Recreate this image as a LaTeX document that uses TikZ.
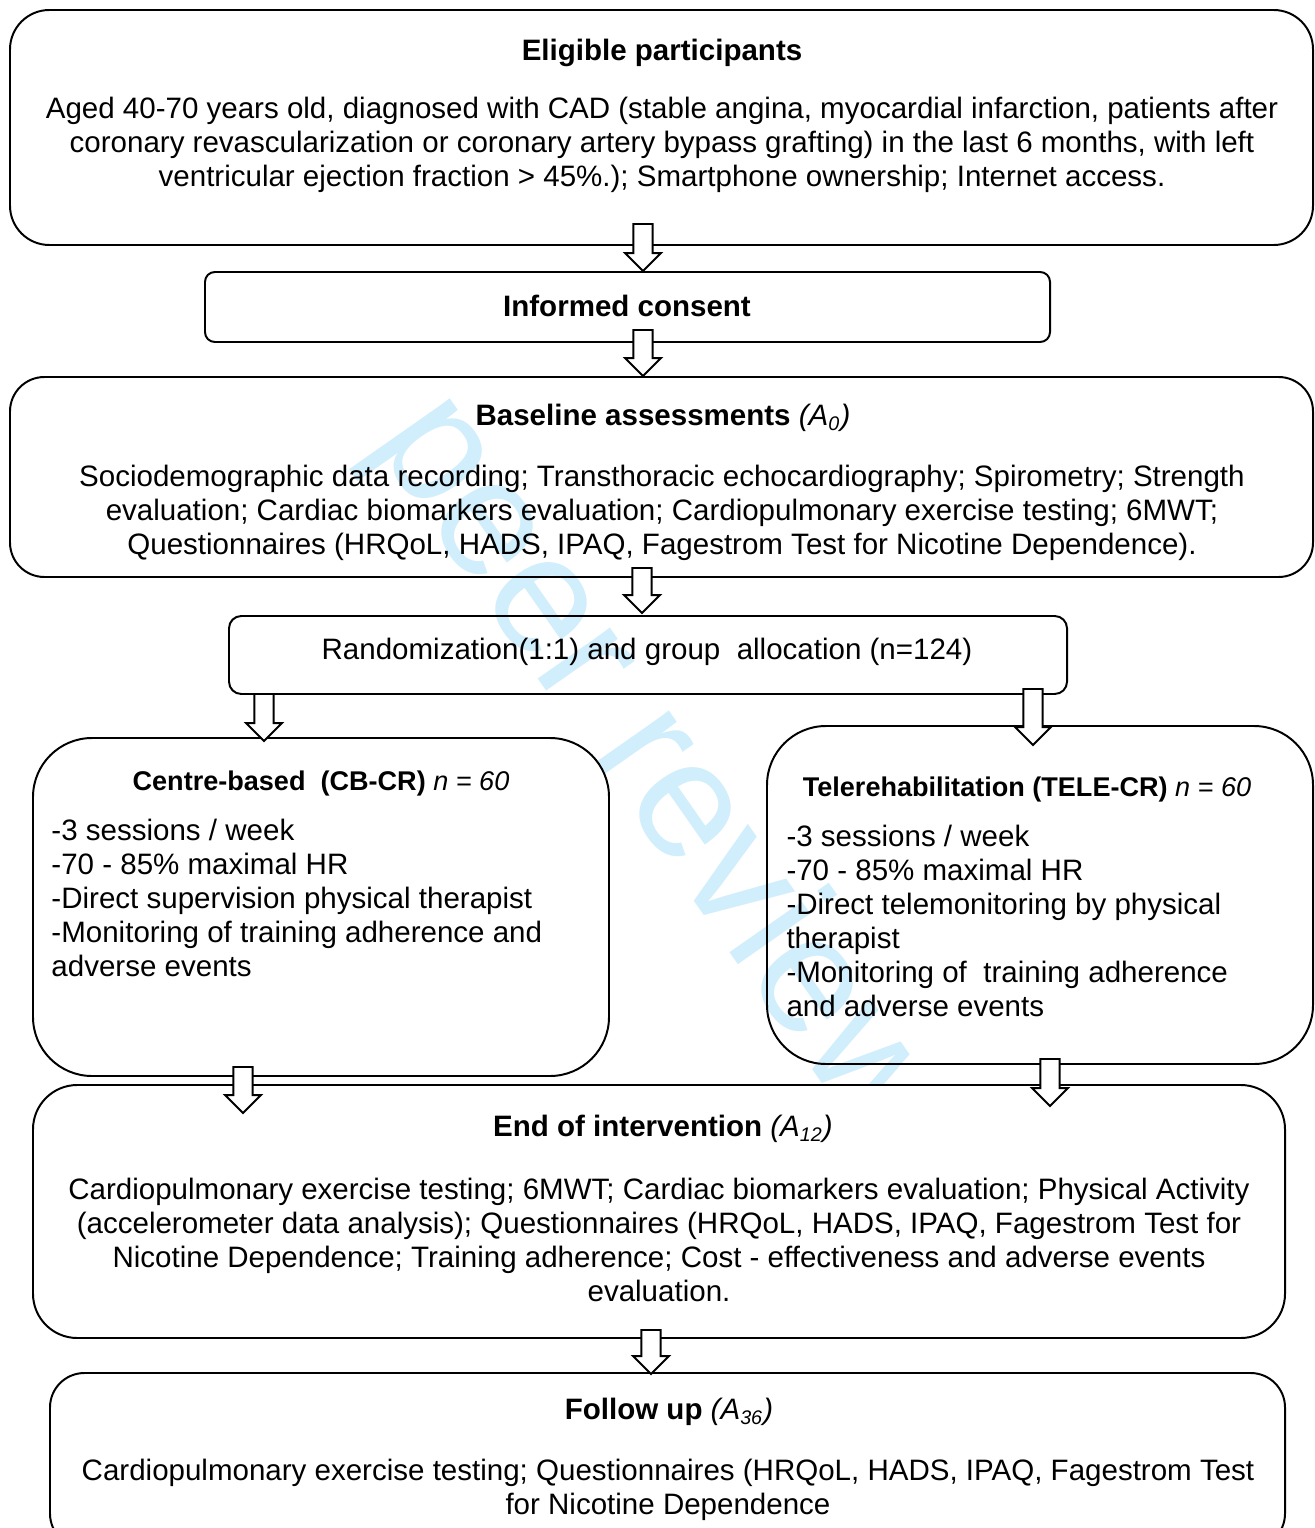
\documentclass[tikz,border=0pt]{standalone}
\usepackage{fontspec}
\setmainfont{Liberation Sans}
\usetikzlibrary{fit,calc}

\definecolor{wmblue}{RGB}{208,238,251}

\tikzset{
    box/.style={draw, line width=0.8pt, inner sep=0pt},
    bodyfont/.style={font=\fontsize{12}{13.8}\selectfont},
    title/.style={bodyfont, font=\fontsize{12}{13.8}\selectfont\bfseries, inner sep=0pt},
    subtitle/.style={font=\fontsize{11}{12.6}\selectfont\bfseries, inner sep=0pt},
    bodytext/.style={bodyfont, align=center, inner sep=0pt},
    listtext/.style={bodyfont, align=left, anchor=north west, inner sep=0pt},
    arrowline/.style={draw, fill=white, line width=0.8pt, line join=miter},
}

% hollow block arrow from a start point down to a tip
\newcommand{\hollowarrow}[2]{%
    \path[arrowline] let \p1=(#1), \p2=(#2) in
        (\x1-3.9pt,\y1) -- (\x1-3.9pt,\y2+7.3pt) -- (\x1-7.3pt,\y2+7.3pt) -- (\x1,\y2)
        -- (\x1+7.3pt,\y2+7.3pt) -- (\x1+3.9pt,\y2+7.3pt) -- (\x1+3.9pt,\y1) -- cycle;}

\begin{document}
\begin{tikzpicture}[x=0.4065pt, y=-0.4065pt]
    \clip (0,0) rectangle (1314,1528);
    \fill[white] (0,0) rectangle (1314,1528);

    % watermark
    \node[text=wmblue, rotate=-55, font=\fontsize{68}{68}\selectfont, inner sep=0pt] (wm) at (655,770) {peer review};

    % boxes
    \node[box, rounded corners=16pt, fit={(10,10) (1313,245)}] (elig) {};
    \node[box, fill=white, rounded corners=4pt, fit={(205,272) (1050,342)}] (consent) {};
    \node[box, rounded corners=14pt, fit={(10,377) (1313,577)}] (baseline) {};
    \node[box, rounded corners=5pt, fit={(229,616) (1067,694)}] (rand) {};
    \node[box, rounded corners=24pt, fit={(33,738) (609,1076)}] (cbcr) {};
    \node[box, rounded corners=24pt, fit={(767,726) (1313,1064)}] (telecr) {};
    \node[box, fill=white, rounded corners=18pt, fit={(33,1085) (1285,1338)}] (endint) {};
    \node[box, rounded corners=14pt, fit={(50,1373) (1285,1548)}] (follow) {};

    % texts
    \node[title] (eligT) at (662,53) {Eligible participants};
    \node[bodytext] (eligB) at (662,145) {Aged 40-70 years old, diagnosed with CAD (stable angina, myocardial infarction, patients after\\
        coronary revascularization or coronary artery bypass grafting) in the last 6 months, with left\\
        ventricular ejection fraction > 45\%.); Smartphone ownership; Internet access.};
    \node[title] (consentT) at (627,306) {Informed consent};
    \node[title] (baselineT) at (663,418) {Baseline assessments \mdseries\itshape (A\textsubscript{0})};
    \node[bodytext] (baselineB) at (662,513) {Sociodemographic data recording; Transthoracic echocardiography; Spirometry; Strength\\
        evaluation; Cardiac biomarkers evaluation; Cardiopulmonary exercise testing; 6MWT;\\
        Questionnaires (HRQoL, HADS, IPAQ, Fagestrom Test for Nicotine Dependence).};
    \node[bodytext] (randT) at (647,652) {Randomization(1:1) and group~ allocation (n=124)};
    \node[subtitle] (cbcrT) at (321,783) {Centre-based~ (CB-CR) \mdseries\itshape n = 60};
    \node[listtext] (cbcrB) at (51,819) {-3 sessions / week\\
        -70 - 85\% maximal HR\\
        -Direct supervision physical therapist\\
        -Monitoring of training adherence and\\
        adverse events};
    \node[subtitle] (telecrT) at (1027,789) {Telerehabilitation (TELE-CR) \mdseries\itshape n = 60};
    \node[listtext] (telecrB) at (786,825) {-3 sessions / week\\
        -70 - 85\% maximal HR\\
        -Direct telemonitoring by physical\\
        therapist\\
        -Monitoring of~ training adherence\\
        and adverse events};
    \node[title] (endintT) at (663,1129) {End of intervention \mdseries\itshape (A\textsubscript{12})};
    \node[bodytext] (endintB) at (659,1240) {Cardiopulmonary exercise testing; 6MWT; Cardiac biomarkers evaluation; Physical Activity\\
        (accelerometer data analysis); Questionnaires (HRQoL, HADS, IPAQ, Fagestrom Test for\\
        Nicotine Dependence; Training adherence; Cost - effectiveness and adverse events\\
        evaluation.};
    \node[title] (followT) at (669,1412) {Follow up \mdseries\itshape (A\textsubscript{36})};
    \node[bodytext] (followB) at (668,1490) {Cardiopulmonary exercise testing; Questionnaires (HRQoL, HADS, IPAQ, Fagestrom Test\\
        for Nicotine Dependence};

    % arrows
    \coordinate (a1) at (643,224);
    \coordinate (a2) at (643,330);
    \coordinate (a3) at (642,568);
    \coordinate (a4) at (264,694);
    \coordinate (a5) at (1033,689);
    \coordinate (a6) at (243,1067);
    \coordinate (a7) at (1050,1059);
    \coordinate (a8) at (651,1330);
    \hollowarrow{a1}{a1 |- consent.north}
    \hollowarrow{a2}{a2 |- baseline.north}
    \hollowarrow{a3}{$(a3 |- rand.north)+(0,-2)$}
    \hollowarrow{a4}{$(a4 |- cbcr.north)+(0,4)$}
    \hollowarrow{a5}{$(a5 |- telecr.north)+(0,20)$}
    \hollowarrow{a6}{$(a6 |- endint.north)+(0,29)$}
    \hollowarrow{a7}{$(a7 |- endint.north)+(0,22)$}
    \hollowarrow{a8}{$(a8 |- follow.north)+(0,2)$}
\end{tikzpicture}
\end{document}
